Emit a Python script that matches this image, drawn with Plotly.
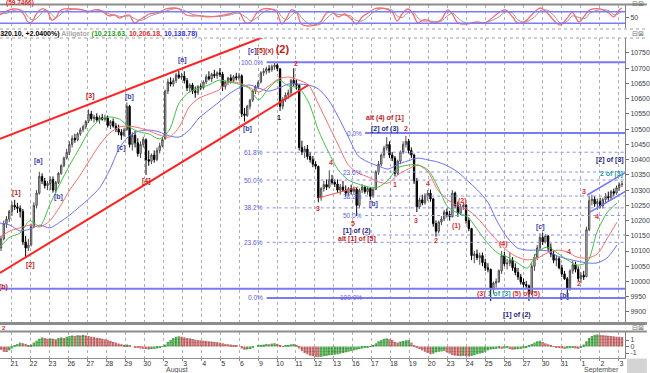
import plotly.graph_objects as go

FONT = "Arial, Liberation Sans, sans-serif"

# ---------------- data: hourly bars (Jul 20 tail .. Sep 2) ----------------
bar_idx = list(range(-4, 224))
opens = [
    10110, 10140, 10190, 10205,
    10230, 10250, 10245, 10240, 10230, 10130, 10110,
    10120, 10180, 10250, 10290, 10345, 10330, 10315,
    10322, 10335, 10300, 10325, 10355, 10380, 10405,
    10424, 10450, 10470, 10465, 10485, 10498, 10508,
    10526, 10550, 10535, 10540, 10530, 10538, 10532,
    10537, 10512, 10525, 10510, 10500, 10490, 10480,
    10498, 10575, 10450, 10480, 10455, 10420, 10450,
    10465, 10400, 10395, 10415, 10400, 10430, 10445,
    10468, 10625, 10655, 10648, 10660, 10678, 10670,
    10674, 10660, 10635, 10645, 10625, 10620, 10640,
    10636, 10655, 10672, 10665, 10680, 10675, 10685,
    10680, 10640, 10655, 10668, 10660, 10672, 10668,
    10675, 10550, 10545, 10575, 10595, 10625, 10640,
    10655, 10685, 10690, 10698, 10695, 10705, 10710,
    10698, 10575, 10598, 10612, 10620, 10660, 10650,
    10644, 10440, 10425, 10435, 10410, 10400, 10385,
    10378, 10275, 10305, 10318, 10310, 10335, 10325,
    10320, 10300, 10310, 10300, 10290, 10305, 10295,
    10303, 10250, 10300, 10310, 10295, 10305, 10280,
    10302, 10360, 10385, 10415, 10438, 10450, 10415,
    10405, 10355, 10395, 10425, 10450, 10460, 10430,
    10415, 10330, 10245, 10268, 10258, 10282, 10290,
    10271, 10190, 10165, 10195, 10205, 10228, 10220,
    10213, 10290, 10250, 10225, 10245, 10250, 10200,
    10174, 10085, 10090, 10078, 10085, 10062, 10045,
    10040, 9975, 9995, 10000, 10035, 10085, 10058,
    10060, 10070, 10045, 10030, 10015, 9998, 9990,
    9986, 9960, 10050, 10080, 10110, 10145, 10130,
    10150, 10110, 10090, 10070, 10075, 10045, 10025,
    10009, 9975, 10035, 10055, 10040, 10010, 10020,
    10016, 10170, 10265, 10270, 10255, 10262, 10248,
    10269, 10280, 10275, 10295, 10290, 10308, 10318,
]
highs = [
    10150, 10200, 10215, 10235,
    10262, 10268, 10258, 10250, 10238, 10150, 10140,
    10190, 10260, 10300, 10360, 10355, 10340, 10330,
    10345, 10345, 10330, 10360, 10385, 10410, 10435,
    10460, 10480, 10485, 10490, 10505, 10515, 10530,
    10565, 10560, 10548, 10552, 10545, 10550, 10548,
    10545, 10530, 10535, 10520, 10515, 10500, 10505,
    10588, 10580, 10490, 10495, 10470, 10460, 10475,
    10470, 10430, 10420, 10430, 10440, 10455, 10475,
    10630, 10665, 10670, 10668, 10685, 10691, 10685,
    10690, 10668, 10650, 10652, 10640, 10645, 10650,
    10660, 10680, 10690, 10685, 10695, 10690, 10700,
    10688, 10660, 10672, 10680, 10678, 10685, 10685,
    10680, 10570, 10580, 10600, 10630, 10645, 10660,
    10690, 10700, 10705, 10710, 10712, 10720, 10715,
    10700, 10605, 10620, 10630, 10665, 10700, 10662,
    10648, 10462, 10445, 10448, 10425, 10412, 10395,
    10380, 10310, 10330, 10335, 10365, 10350, 10335,
    10335, 10320, 10330, 10315, 10310, 10318, 10312,
    10308, 10305, 10320, 10315, 10312, 10310, 10310,
    10365, 10395, 10420, 10445, 10474, 10460, 10425,
    10412, 10400, 10430, 10460, 10478, 10468, 10440,
    10420, 10340, 10275, 10285, 10290, 10300, 10302,
    10275, 10200, 10200, 10215, 10235, 10240, 10232,
    10300, 10295, 10262, 10255, 10262, 10255, 10210,
    10176, 10100, 10105, 10095, 10095, 10075, 10060,
    10042, 10000, 10010, 10040, 10100, 10098, 10075,
    10095, 10080, 10060, 10045, 10025, 10010, 10002,
    9990, 10060, 10090, 10120, 10158, 10160, 10155,
    10152, 10125, 10100, 10085, 10082, 10055, 10035,
    10015, 10040, 10068, 10065, 10050, 10030, 10035,
    10180, 10280, 10285, 10280, 10272, 10275, 10275,
    10290, 10295, 10300, 10305, 10315, 10325, 10330,
]
lows = [
    10100, 10135, 10175, 10195,
    10215, 10235, 10225, 10210, 10120, 10078, 10100,
    10115, 10175, 10240, 10285, 10320, 10305, 10300,
    10300, 10292, 10290, 10320, 10350, 10375, 10400,
    10415, 10440, 10455, 10460, 10478, 10490, 10500,
    10520, 10528, 10522, 10525, 10518, 10528, 10525,
    10505, 10500, 10505, 10490, 10480, 10465, 10475,
    10495, 10440, 10430, 10440, 10410, 10405, 10440,
    10350, 10380, 10385, 10390, 10395, 10420, 10440,
    10466, 10615, 10640, 10640, 10652, 10665, 10662,
    10650, 10625, 10620, 10615, 10603, 10612, 10628,
    10630, 10648, 10660, 10655, 10668, 10665, 10672,
    10625, 10630, 10645, 10650, 10652, 10660, 10660,
    10540, 10525, 10540, 10565, 10590, 10615, 10632,
    10650, 10675, 10680, 10685, 10688, 10695, 10690,
    10560, 10565, 10590, 10600, 10612, 10640, 10630,
    10430, 10415, 10405, 10400, 10390, 10375, 10368,
    10260, 10265, 10295, 10300, 10305, 10318, 10310,
    10290, 10285, 10295, 10280, 10282, 10285, 10288,
    10215, 10240, 10290, 10288, 10285, 10268, 10275,
    10300, 10350, 10378, 10405, 10430, 10405, 10395,
    10345, 10350, 10385, 10418, 10440, 10420, 10405,
    10320, 10228, 10238, 10250, 10252, 10265, 10262,
    10180, 10147, 10158, 10185, 10198, 10210, 10200,
    10210, 10240, 10212, 10218, 10235, 10190, 10165,
    10070, 10060, 10070, 10055, 10050, 10035, 10030,
    9936, 9960, 9980, 9995, 10025, 10050, 10040,
    10050, 10035, 10020, 10005, 9990, 9980, 9978,
    9936, 9955, 10035, 10070, 10100, 10120, 10125,
    10100, 10080, 10060, 10050, 10040, 10015, 10005,
    9941, 9970, 10025, 10030, 10000, 9995, 10005,
    10014, 10165, 10250, 10245, 10235, 10240, 10240,
    10255, 10265, 10268, 10280, 10285, 10298, 10310,
]
closes = [
    10140, 10190, 10205, 10230,
    10250, 10245, 10240, 10230, 10130, 10110, 10120,
    10180, 10250, 10290, 10345, 10330, 10315, 10322,
    10335, 10300, 10325, 10355, 10380, 10405, 10424,
    10450, 10470, 10465, 10485, 10498, 10508, 10525,
    10550, 10535, 10540, 10530, 10538, 10532, 10537,
    10512, 10525, 10510, 10500, 10490, 10480, 10498,
    10575, 10450, 10480, 10455, 10420, 10450, 10467,
    10400, 10395, 10415, 10400, 10430, 10445, 10466,
    10625, 10655, 10648, 10660, 10678, 10670, 10674,
    10660, 10635, 10645, 10625, 10620, 10640, 10636,
    10655, 10672, 10665, 10680, 10675, 10685, 10680,
    10640, 10655, 10668, 10660, 10672, 10668, 10675,
    10550, 10545, 10575, 10595, 10625, 10640, 10653,
    10685, 10690, 10698, 10695, 10705, 10710, 10699,
    10575, 10598, 10612, 10620, 10660, 10650, 10644,
    10440, 10425, 10435, 10410, 10400, 10385, 10379,
    10275, 10305, 10318, 10310, 10335, 10325, 10320,
    10300, 10310, 10300, 10290, 10305, 10295, 10303,
    10250, 10300, 10310, 10295, 10305, 10280, 10302,
    10360, 10385, 10415, 10438, 10450, 10415, 10405,
    10355, 10395, 10425, 10450, 10460, 10430, 10415,
    10330, 10245, 10268, 10258, 10282, 10290, 10271,
    10190, 10165, 10195, 10205, 10228, 10220, 10213,
    10290, 10250, 10225, 10245, 10250, 10200, 10174,
    10085, 10090, 10078, 10085, 10062, 10045, 10040,
    9975, 9995, 10000, 10035, 10085, 10058, 10060,
    10070, 10045, 10030, 10015, 9998, 9990, 9986,
    9960, 10050, 10080, 10110, 10145, 10130, 10150,
    10110, 10090, 10070, 10075, 10045, 10025, 10009,
    9975, 10035, 10055, 10040, 10010, 10020, 10015,
    10170, 10265, 10270, 10255, 10262, 10248, 10269,
    10280, 10275, 10295, 10290, 10308, 10318, 10320,
]

day_labels = ["21", "22", "23", "26", "27", "28", "29", "30", "2", "3", "4", "5", "6", "9", "10",
              "11", "12", "13", "16", "17", "18", "19", "20", "23", "24", "25", "26", "27", "30",
              "31", "1", "2", "3"]
month_labels = ["August", "September"]
month_pos = [55.7, 208.4]

# ---------------- Alligator lines ----------------
ma_x = [-4.4, -0.7, 2.9, 6.5, 10.2, 13.8, 17.5, 21.1, 24.7, 28.4, 32.0, 35.7, 39.3, 42.9, 46.6,
        50.2, 53.8, 57.5, 61.1, 64.8, 68.4, 72.0, 75.7, 79.3, 82.9, 86.6, 90.2, 93.9, 97.5,
        101.1, 104.8, 108.4, 112.0, 115.7, 119.3, 123.0, 126.6, 130.2, 133.9, 137.5, 141.1,
        144.8, 148.4, 152.1, 155.7, 159.3, 163.0, 166.6, 170.2, 173.9, 177.5, 181.2, 184.8,
        188.4, 192.1, 195.7, 199.3, 203.0, 206.6, 210.3, 213.9, 217.5, 221.2]
jaw = [10192, 10185, 10166, 10172, 10185, 10176, 10195, 10218, 10245, 10274, 10307, 10366, 10438,
       10478, 10494, 10497, 10491, 10478, 10474, 10497, 10537, 10563, 10589, 10615, 10635, 10645,
       10635, 10625, 10635, 10648, 10648, 10645, 10632, 10596, 10540, 10474, 10412, 10392, 10379,
       10369, 10385, 10396, 10405, 10399, 10392, 10379, 10359, 10330, 10300, 10261, 10195, 10143,
       10110, 10103, 10103, 10100, 10084, 10074, 10067, 10061, 10061, 10077, 10120]
teeth = [10146, 10166, 10176, 10185, 10179, 10199, 10245, 10300, 10346, 10399, 10448, 10487, 10507,
         10510, 10504, 10494, 10481, 10474, 10507, 10573, 10602, 10615, 10629, 10655, 10652, 10638,
         10622, 10642, 10665, 10671, 10661, 10645, 10583, 10514, 10448, 10382, 10356, 10343, 10327,
         10323, 10350, 10369, 10382, 10359, 10300, 10268, 10248, 10235, 10208, 10169, 10133, 10100,
         10080, 10071, 10077, 10094, 10103, 10097, 10080, 10077, 10090, 10140, 10195]
lips = [10113, 10146, 10159, 10199, 10182, 10251, 10320, 10382, 10438, 10497, 10530, 10540, 10533,
        10507, 10491, 10484, 10468, 10497, 10586, 10622, 10635, 10645, 10661, 10655, 10648, 10635,
        10596, 10635, 10661, 10642, 10635, 10589, 10497, 10425, 10366, 10333, 10320, 10310, 10310,
        10333, 10373, 10382, 10382, 10366, 10310, 10245, 10225, 10212, 10169, 10126, 10094, 10080,
        10061, 10044, 10097, 10113, 10094, 10071, 10054, 10064, 10163, 10225, 10258]

# ---------------- Stochastic (top pane) ----------------
stoch_x = [-4.4, -1.8, 0.4, 2.9, 4.7, 5.8, 7.3, 8.7, 10.2, 11.6, 13.1, 14.6, 16.0, 17.5, 19.3,
           22.9, 25.8, 27.6, 30.2, 32.0, 33.8, 35.6, 37.5, 39.3, 41.1, 42.9, 44.7, 46.6, 48.4,
           50.2, 52.0, 53.8, 56.4, 59.3, 61.1, 63.7, 65.8, 68.4, 72.0, 75.7, 79.3, 82.9, 85.5,
           87.3, 89.5, 92.0, 94.6, 96.8, 98.6, 100.4, 102.2, 104.0, 105.8, 108.4, 110.6, 112.8,
           115.0, 117.2, 119.3, 121.5, 123.7, 125.9, 128.0, 130.2, 132.4, 134.6, 136.8, 139.0,
           140.8, 142.6, 144.8, 146.6, 148.4, 150.2, 152.1, 153.9, 156.8, 159.3, 161.2, 163.0,
           165.9, 170.2, 172.8, 174.6, 178.2, 180.4, 183.0, 184.8, 187.3, 191.0, 193.2, 195.7,
           198.6, 200.4, 203.0, 204.8, 207.3, 209.5, 211.3, 214.9, 218.2, 220.0, 221.9, 223.0]
stoch_k = [63, 84, 94, 89, 58, 27, 27, 63, 89, 94, 78, 37, 47, 84, 94, 94, 89, 78, 89, 89, 73, 58,
           63, 47, 58, 63, 22, 37, 53, 68, 73, 78, 94, 99, 94, 63, 58, 58, 53, 58, 68, 78, 22, 27,
           73, 94, 94, 78, 16, 47, 89, 78, 16, 6, 11, 27, 73, 78, 53, 68, 47, 16, 53, 73, 94, 99,
           94, 78, 32, 68, 94, 68, 22, 37, 37, 22, 37, 89, 63, 22, 16, 27, 22, 37, 78, 89, 53, 22,
           27, 78, 99, 73, 27, 11, 47, 78, 27, 63, 89, 94, 73, 53, 89, 99]
stoch_d = [70, 72, 85, 90, 78, 55, 38, 42, 62, 85, 85, 65, 50, 62, 82, 93, 90, 84, 82, 86, 82, 68,
           62, 56, 55, 58, 45, 35, 40, 55, 65, 72, 84, 95, 96, 82, 68, 60, 56, 55, 62, 72, 52, 35,
           48, 78, 92, 88, 55, 38, 62, 80, 50, 18, 10, 16, 45, 70, 66, 62, 58, 35, 32, 55, 80, 94,
           96, 88, 58, 50, 75, 80, 48, 32, 32, 30, 30, 60, 72, 48, 22, 22, 24, 30, 55, 80, 72, 40,
           26, 52, 85, 88, 52, 22, 30, 58, 50, 45, 72, 90, 85, 65, 70, 85]

# ---------------- MACD histogram (bottom pane) ----------------
macd = [
    -0.5, -0.8, -0.85, -0.6,
    -0.3, 0.1, 0.4, 0.6, 0.5, 0.4, 0.2,
    0.3, 0.6, 0.9, 1.2, 1.4, 1.3, 1.2,
    1.25, 1.2, 1.1, 1.3, 1.4, 1.3, 1.5,
    1.6, 1.7, 1.6, 1.75, 1.7, 1.8, 1.7,
    1.6, 1.5, 1.45, 1.35, 1.3, 1.2, 1.1,
    1.0, 0.85, 0.7, 0.6, 0.45, 0.35, 0.25,
    0.3, 0.1, 0.0, -0.1, -0.2, -0.3, -0.35,
    -0.4, -0.45, -0.4, -0.35, -0.3, -0.2, -0.05,
    0.3, 0.7, 1.0, 1.3, 1.5, 1.55, 1.5,
    1.4, 1.3, 1.25, 1.15, 1.05, 1.0, 0.95,
    0.9, 0.85, 0.8, 0.75, 0.7, 0.65, 0.6,
    0.5, 0.4, 0.35, 0.3, 0.2, 0.1, 0.0,
    -0.3, -0.5, -0.45, -0.4, -0.2, 0.0, 0.1,
    0.25, 0.3, 0.4, 0.35, 0.45, 0.5, 0.4,
    0.1, 0.05, 0.1, 0.2, 0.35, 0.4, 0.2,
    -0.3, -0.7, -1.0, -1.2, -1.4, -1.5, -1.6,
    -1.65, -1.6, -1.5, -1.45, -1.35, -1.3, -1.25,
    -1.2, -1.1, -1.0, -0.9, -0.8, -0.7, -0.6,
    -0.5, -0.4, -0.3, -0.2, -0.1, 0.05, 0.2,
    0.5, 0.8, 1.0, 1.2, 1.25, 1.1, 1.0,
    0.7, 0.6, 0.75, 0.85, 0.95, 1.0, 0.6,
    0.2, -0.2, -0.4, -0.6, -0.8, -1.0, -1.2,
    -1.1, -0.9, -0.8, -0.75, -0.7, -0.9, -1.1,
    -1.3, -1.4, -1.45, -1.5, -1.45, -1.5, -1.55,
    -1.45, -1.3, -1.2, -1.1, -1.0, -0.8, -0.6,
    -0.45, -0.4, -0.35, -0.3, -0.35, -0.3, -0.25,
    -0.4, -0.5, -0.45, -0.4, -0.35, -0.3, -0.2,
    0.1, 0.4, 0.6, 0.8, 0.9, 0.7, 0.5,
    0.35, 0.2, 0.05, -0.1, -0.2, -0.3, -0.35,
    -0.3, -0.25, -0.2, -0.3, -0.35, -0.2, 0.3,
    0.8, 1.3, 1.6, 1.8, 1.85, 1.8, 1.75,
    1.7, 1.65, 1.6, 1.55, 1.5, 1.5, 1.45,
]

# ---------------- drawn studies ----------------
fibA_low, fibA_high = 9946, 10720          # retracement of the (2) decline
fibB_high, fibB_low = 10487, 9946          # retracement of the [2] high
fibA_start, fibB_start = 93.1, 129.1
fib_ratios = [0.236, 0.382, 0.5, 0.618]
level_b = 9976
chan_upper = [(-4.4, 10468), (97.5, 10822)]
chan_lower = [(-4.4, 10028), (108.4, 10645)]
small_up = [(210.3, 10284), (224.3, 10358)]
small_dn = [(211.3, 10228), (224.3, 10296)]
thin_red = [(112.0, 10274), (126.6, 10310)]

RED = "#c02020"
RED2 = "#e03030"
BLUE = "#3c3cb0"
NAVY = "#1c1c80"
TEAL = "#1f9f9f"
FIBC = "#5a5ae6"

wave_labels = [
    ("[1]", 1.5, 10290, RED), ("[2]", 6.9, 10054, RED), ("[a]", 9.8, 10396, BLUE),
    ("[b]", 17.1, 10277, BLUE), ("[3]", 28.7, 10609, RED), ("[c]", 40.0, 10438, BLUE),
    ("[b]", 42.9, 10606, BLUE), ("[4]", 49.1, 10330, RED), ("[a]", 62.2, 10727, BLUE),
    ("[b]", 86.2, 10501, BLUE), ("2", 103.7, 10717, RED2), ("1", 97.5, 10537, "#202020"),
    ("alt (4) of [1]", 136.4, 10537, RED), ("[2] of (3)", 136.4, 10501, NAVY),
    ("2", 144.1, 10501, RED2), ("4", 116.8, 10389, RED2), ("3", 111.7, 10238, RED2),
    ("5", 124.8, 10192, RED2), ("[b]", 132.0, 10254, BLUE), ("[1] of (2)", 126.2, 10166, NAVY),
    ("alt [1] of [5]", 126.2, 10140, RED), ("1", 140.1, 10317, RED2), ("3", 147.7, 10199, RED2),
    ("4", 152.1, 10323, RED2), ("2", 155.0, 10136, RED2), ("(2)", 164.8, 10264, RED2),
    ("(1)", 162.6, 10182, RED2), ("(4)", 179.7, 10123, RED2), ("[c]", 193.2, 10179, BLUE),
    ("4", 203.7, 10097, RED2), ("3", 209.2, 10294, RED2), ("4", 213.9, 10215, RED2),
    ("2", 207.3, 9995, RED2), ("[b]", 201.9, 9952, BLUE), ("[1] of (2)", 184.8, 9890, NAVY),
    ("[2] of [3]", 218.6, 10399, NAVY), ("2 of [3]", 219.3, 10353, TEAL), ("(b)", -3.0, 9982, RED),
]

# ---------------- pixel layout helpers ----------------
PW, PH = 628.0, 358.0


def py(y):
    return (PH - y) / PH


def pxp(x):
    return x / PW


X_RANGE = [-4.37, 224.1]
day_grid = [(11.5 + 19.06 * d - 12) / 2.749 for d in range(len(day_labels))]

fig = go.Figure()

# Alligator (behind candles)
for vals, col in [(jaw, "#6e6eff"), (teeth, "#ff6a6a"), (lips, "#3fc23f")]:
    fig.add_trace(go.Scatter(x=ma_x, y=vals, mode="lines", xaxis="x", yaxis="y",
                             line=dict(color=col, width=1, shape="spline", smoothing=0.8),
                             hoverinfo="skip", showlegend=False))

fig.add_trace(go.Candlestick(
    x=bar_idx, open=opens, high=highs, low=lows, close=closes, xaxis="x", yaxis="y",
    increasing=dict(line=dict(color="#4a4a4a", width=1), fillcolor="#e2e2e2"),
    decreasing=dict(line=dict(color="#000000", width=1), fillcolor="#000000"),
    whiskerwidth=0, showlegend=False))

# stochastic
fig.add_trace(go.Scatter(x=stoch_x, y=stoch_d, mode="lines", xaxis="x2", yaxis="y2",
                         line=dict(color="#9a9a9a", width=1, shape="spline"), showlegend=False))
fig.add_trace(go.Scatter(x=stoch_x, y=stoch_k, mode="lines", xaxis="x2", yaxis="y2",
                         line=dict(color="#ff6b6b", width=1.3, shape="spline"), showlegend=False))

# macd histogram, green when rising, red when falling
macd_cols = ["#f07a7a"] + ["#55c855" if macd[k] > macd[k - 1] else "#f07a7a" for k in range(1, len(macd))]
fig.add_trace(go.Bar(x=bar_idx, y=macd, xaxis="x3", yaxis="y3", width=0.9,
                     marker=dict(color=macd_cols, line=dict(width=0),
                                 pattern=dict(shape=".", size=3, solidity=0.5)),
                     showlegend=False))

shapes = []


def seg(p0, p1, color, width, dash="solid", xref="x", yref="y"):
    shapes.append(dict(type="line", xref=xref, yref=yref, x0=p0[0], y0=p0[1], x1=p1[0], y1=p1[1],
                       line=dict(color=color, width=width, dash=dash), layer="above"))


seg(chan_upper[0], chan_upper[1], "#ff2222", 2)
seg(chan_lower[0], chan_lower[1], "#ff2222", 2)
seg(small_up[0], small_up[1], "#7070ff", 1.5)
seg(small_dn[0], small_dn[1], "#7070ff", 1.5)
seg(thin_red[0], thin_red[1], "#ff5050", 1)

XR = 226
seg((-6, level_b), (XR, level_b), "#7a7af5", 2)
seg((fibA_start, fibA_high), (XR, fibA_high), "#7a7af5", 2)
seg((fibA_start, fibA_low), (XR, fibA_low), "#7a7af5", 2)
seg((fibB_start, fibB_high), (XR, fibB_high), "#7a7af5", 2)
for r in fib_ratios:
    seg((fibA_start, fibA_low + r * (fibA_high - fibA_low)), (XR, fibA_low + r * (fibA_high - fibA_low)),
        "#8c8cf5", 1, "dot")
    seg((fibB_start, fibB_high - r * (fibB_high - fibB_low)), (XR, fibB_high - r * (fibB_high - fibB_low)),
        "#8c8cf5", 1, "dot")

# stochastic 80/20 bands
for lv in (80, 20):
    seg((0, lv), (1, lv), "#7b7bff", 1.5, xref="paper", yref="y2")

# pane separators
W_ALL = 650 / PW
for ypx, col, w, d in [(4.5, "#8c8c8c", 2, "solid"), (29, "#a0a0a0", 1, "dot"),
                       (38, "#a0a0a0", 1, "dot"), (323.5, "#8c8c8c", 3, "solid"),
                       (331.5, "#8c8c8c", 2, "solid")]:
    seg((0, py(ypx)), (W_ALL, py(ypx)), col, w, d, xref="paper", yref="paper")
shapes.append(dict(type="rect", xref="paper", yref="paper", x0=pxp(630), x1=W_ALL, y0=py(358.5), y1=py(373),
                   fillcolor="#d4d4d4", line=dict(width=0)))

annotations = []


def txt(x, y, s, color, size=8, xanchor="center", xref="x", yref="y", bold=True):
    annotations.append(dict(x=x, y=y, xref=xref, yref=yref, text=("<b>%s</b>" % s) if bold else s,
                            showarrow=False, xanchor=xanchor, yanchor="middle",
                            font=dict(family=FONT, size=size, color=color)))


for s, x, y, c in wave_labels:
    txt(x, y, s, c, size=7)

txt(93.9, 10763, "<span style='color:#3c3cb0'>[c]</span><span style='color:#c02020'>[5](x)</span> "
                 "<span style='color:#c02020;font-size:11px'>(2)</span>", RED, size=7)
txt(181.5, 9959, "<span style='color:#e03030'>(3)</span> <span style='color:#1f9f9f'>1 of [3]</span> "
                 "<span style='color:#e03030'>(5) of (5)</span>", RED, size=7)

# fib labels
for r, lab in [(1.0, "100.0%"), (0.618, "61.8%"), (0.5, "50.0%"), (0.382, "38.2%"), (0.236, "23.6%"), (0.0, "0.0%")]:
    txt(fibA_start - 0.5, fibA_low + r * (fibA_high - fibA_low), lab, FIBC, size=6.5, xanchor="right", bold=False)
for r, lab in [(0.0, "0.0%"), (0.236, "23.6%"), (0.382, "38.2%"), (0.5, "50.0%"), (1.0, "100.0%")]:
    txt(fibB_start - 0.5, fibB_high - r * (fibB_high - fibB_low), lab, FIBC, size=6.5, xanchor="right", bold=False)

# pane headers
txt(pxp(200), py(33.5),
    "<span style='color:#000'>(10,320.10, 10,329.10, 10,319.19, 10,320.10, +2.0400%)</span> "
    "<span style='color:#a8a8a8'>Alligator</span> <span style='color:#20a020'>(10,213.63,</span> "
    "<span style='color:#e03030'>10,206.18,</span> <span style='color:#3030e0'>10,138.78)</span>",
    "#000", size=7, xanchor="right", xref="paper", yref="paper")
txt(pxp(20), py(3.5), "(59.7466)", "#e03030", size=6.5, xref="paper", yref="paper")
txt(pxp(4), py(327.5), "2", "#e03030", size=6, xref="paper", yref="paper")
for ypx in (4.0, 34, 327.5):
    txt(pxp(641), py(ypx), "\u229f\u22a0", "#707070", size=7, xref="paper", yref="paper", bold=False)

for lab, pos in zip(month_labels, month_pos):
    txt(pos, py(369.5), lab, "#505050", size=7, xanchor="left", xref="x3", yref="paper", bold=False)

axis_common = dict(range=X_RANGE, tickvals=day_grid, showgrid=True, gridcolor="#b0b0b0", griddash="dot",
                   gridwidth=1, zeroline=False, showline=False, ticks="", fixedrange=True)
yfont = dict(family=FONT, size=7, color="#404040")

fig.update_layout(
    width=650, height=373, autosize=False,
    margin=dict(l=0, r=22, t=0, b=15),
    paper_bgcolor="white", plot_bgcolor="white",
    showlegend=False, bargap=0.1,
    xaxis=dict(domain=[0, 1], anchor="y", showticklabels=False, rangeslider=dict(visible=False), **axis_common),
    xaxis2=dict(domain=[0, 1], anchor="y2", matches="x", showticklabels=False, **axis_common),
    xaxis3=dict(domain=[0, 1], anchor="y3", matches="x", showticklabels=True, ticktext=day_labels,
                tickfont=dict(family=FONT, size=7, color="#303030"), ticklabelshift=3,
                ticklabelstandoff=-3,
                **{k: v for k, v in axis_common.items() if k not in ("showline", "ticks")},
                showline=True, linecolor="#909090", ticks="outside", ticklen=2, tickcolor="#909090"),
    yaxis=dict(domain=[py(322), py(38)], anchor="x", side="right", range=[9867.1, 10799.2],
               tickvals=list(range(9900, 10751, 50)), ticktext=[str(v) for v in range(9900, 10751, 50)],
               tickfont=yfont, ticks="outside", ticklen=3, tickcolor="#707070",
               showline=True, linecolor="#808080", showgrid=False, zeroline=False, fixedrange=True),
    yaxis2=dict(domain=[py(28), py(5)], anchor="x2", side="right", range=[-4.3, 114.6],
                tickvals=[50], ticktext=["50"], tickfont=yfont, ticks="outside", ticklen=3,
                tickcolor="#707070", showline=True, linecolor="#808080", showgrid=False,
                zeroline=False, fixedrange=True),
    yaxis3=dict(domain=[0, py(332)], anchor="x3", side="right", range=[-1.77, 2.23],
                tickvals=[1, 0, -1], ticktext=["1", "0", "-1"], tickfont=yfont, ticks="outside",
                ticklen=3, tickcolor="#707070", showline=True, linecolor="#808080", showgrid=False,
                zeroline=False, fixedrange=True),
    shapes=shapes, annotations=annotations,
)

fig.write_html("out.html")
